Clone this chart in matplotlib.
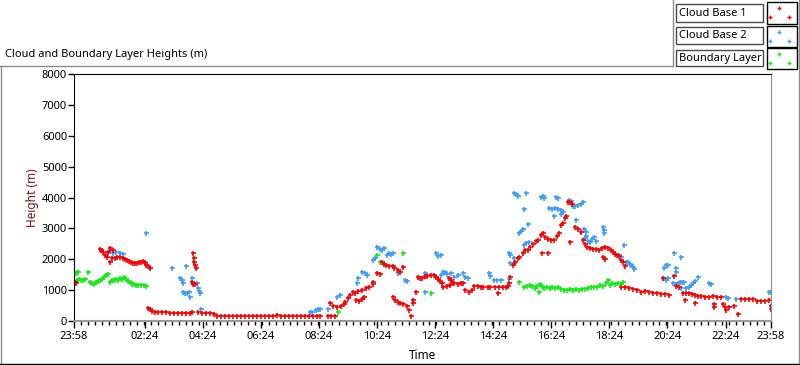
import matplotlib
matplotlib.use('Agg')
import matplotlib.pyplot as plt
from matplotlib.lines import Line2D
from matplotlib.patches import Rectangle
import numpy as np

plt.rcParams['font.family'] = ['Noto Sans', 'DejaVu Sans']

# hours after the 23:58 start, height in m
cloud_base_1 = [
    (0.02, 1270), (0.07, 1240),
    (0.90, 2340), (0.93, 2310), (1.00, 2240), (1.07, 2150), (1.14, 2080), (1.17, 2240), (1.24, 2370),
    (1.24, 1920), (1.31, 2050), (1.34, 2310), (1.41, 2050), (1.48, 2080), (1.59, 2080), (1.69, 2050),
    (1.76, 2020), (1.83, 1980), (1.90, 1950), (1.97, 1920), (2.03, 1890), (2.10, 1890), (2.17, 1890),
    (2.24, 1920), (2.31, 1920), (2.38, 1950), (2.45, 1890), (2.48, 1820), (2.55, 1790), (2.62, 1720),
    (2.55, 420), (2.62, 390), (2.69, 330), (2.79, 290), (2.90, 290), (3.03, 290), (3.17, 290),
    (3.31, 260), (3.45, 260), (3.59, 260), (3.72, 260), (3.86, 260), (4.00, 260), (4.07, 290),
    (4.10, 2210), (4.14, 2050), (4.14, 1920), (4.17, 1820), (4.21, 1720), (4.07, 1270), (4.10, 1200),
    (4.17, 1200),
    (4.28, 290), (4.41, 260), (4.55, 260), (4.69, 260), (4.83, 230), (4.93, 160), (5.07, 160),
    (5.21, 160), (5.34, 160), (5.48, 160), (5.62, 170), (5.76, 160), (5.90, 160), (6.03, 160),
    (6.17, 160), (6.31, 160), (6.45, 160), (6.59, 160), (6.72, 160), (6.86, 170), (7.00, 180),
    (7.14, 160), (7.28, 160), (7.41, 160), (7.55, 160), (7.69, 160), (7.83, 160), (7.97, 160),
    (8.10, 160), (8.24, 160), (8.38, 160), (8.48, 160), (8.76, 160), (8.86, 160), (8.97, 160),
    (8.83, 590), (8.93, 490), (9.07, 460), (9.21, 490), (9.31, 550), (9.34, 620), (9.45, 750),
    (9.52, 850), (9.59, 940), (9.69, 910), (9.79, 980), (9.90, 1010), (9.72, 680), (9.83, 650),
    (9.93, 720), (10.00, 780), (10.07, 1070), (10.17, 1110), (10.28, 1200), (10.31, 1270),
    (10.45, 1560), (10.52, 1530), (10.62, 1920), (10.69, 1850), (10.76, 1820), (10.86, 1790),
    (10.97, 1790), (11.03, 1720), (11.14, 1660), (11.21, 1590), (11.34, 1760),
    (11.00, 780), (11.07, 680), (11.14, 620), (11.24, 590), (11.34, 550), (11.45, 490), (11.52, 360),
    (11.59, 160), (11.66, 680), (11.66, 590), (11.76, 940),
    (11.83, 1430), (11.90, 1400), (11.97, 1400), (12.07, 1460), (12.17, 1460), (12.28, 1500),
    (12.38, 1500), (12.45, 1430), (12.52, 1370), (12.59, 1300), (12.66, 1240), (12.72, 1110),
    (12.83, 1140), (12.93, 1170), (12.90, 1400), (12.97, 1330), (13.03, 1270), (13.10, 1240),
    (13.21, 1200), (13.31, 1240), (13.41, 1240), (13.48, 1010), (13.59, 940), (13.69, 1010),
    (13.79, 1140), (13.90, 1140), (14.00, 1110), (14.10, 1110), (14.24, 1110), (14.34, 1110),
    (14.48, 1110), (14.59, 910), (14.62, 1110), (14.76, 1110), (14.86, 1110), (14.93, 1140),
    (14.97, 1240), (15.03, 1430), (15.10, 1820), (15.17, 1920), (15.28, 2050), (15.34, 2080),
    (15.45, 2210), (15.52, 2310), (15.62, 2310), (15.69, 2400), (15.79, 2500), (15.90, 2600),
    (15.97, 2630), (16.07, 2800), (16.14, 2860), (16.21, 2730), (16.31, 2670), (16.41, 2630),
    (16.52, 2630), (16.31, 2210), (16.10, 2210), (16.62, 2760), (16.69, 2860), (16.76, 3120),
    (16.83, 3190), (16.90, 3350), (16.93, 3410), (17.00, 3840), (17.07, 3870), (17.14, 3800),
    (17.07, 2570), (17.24, 3060), (17.34, 2990), (17.45, 2890), (17.52, 2630), (17.59, 2500),
    (17.66, 2400), (17.76, 2370), (17.86, 2340), (17.97, 2340), (18.07, 2310), (18.17, 2370),
    (18.28, 2400), (18.38, 2370), (18.48, 2310), (18.55, 2240), (18.62, 2180), (18.69, 2150),
    (18.76, 2110), (18.83, 1980), (18.90, 1920), (18.97, 1790), (18.21, 2080), (18.28, 2020),
    (18.83, 1110), (18.97, 1110), (19.10, 1070), (19.24, 1040), (19.38, 1010), (19.52, 940),
    (19.66, 980), (19.79, 940), (19.93, 910), (20.07, 910), (20.21, 880), (20.34, 880), (20.48, 850),
    (20.28, 1400), (20.66, 1460), (20.72, 1140), (20.83, 1110), (20.97, 910), (21.07, 910),
    (21.17, 910), (21.28, 880), (21.38, 850), (21.03, 680), (21.38, 590), (21.48, 810), (21.59, 810),
    (21.72, 780), (21.86, 780), (22.00, 810), (22.14, 780), (22.28, 780), (22.03, 550), (22.03, 460),
    (22.34, 550), (22.41, 460), (22.45, 360), (22.55, 460), (22.72, 490), (22.86, 230), (22.97, 720),
    (23.10, 720), (23.24, 720), (23.38, 720), (23.52, 650), (23.66, 650), (23.79, 650), (23.93, 680),
    (24.00, 390), (24.00, 490),
]

cloud_base_2 = [
    (1.17, 2210), (1.24, 2310), (1.34, 2210), (1.45, 2240), (1.59, 2210), (1.69, 2180),
    (2.45, 1920), (2.48, 2860), (2.62, 1720), (3.38, 1720), (3.86, 1790), (3.66, 1400), (3.72, 1330),
    (3.76, 1240), (3.76, 940), (3.83, 910), (3.90, 910), (3.97, 940), (4.00, 780), (4.07, 1400),
    (4.24, 1240), (4.28, 1070), (4.31, 980), (4.34, 910), (4.38, 390),
    (8.14, 290), (8.21, 290), (8.34, 360), (8.41, 390), (8.48, 390), (8.76, 390), (9.07, 780),
    (9.17, 850), (9.76, 1240), (9.79, 1400), (9.93, 1590), (10.03, 1560), (10.10, 1500),
    (10.31, 1980), (10.38, 2050), (10.45, 2410), (10.52, 2340), (10.59, 2310), (10.69, 2370),
    (10.79, 2150), (10.86, 2210), (10.93, 2180), (11.00, 2210), (11.14, 1590), (11.17, 1560),
    (11.41, 1330), (11.48, 1300), (12.10, 1560), (12.14, 1500), (12.10, 940), (12.45, 2210),
    (12.52, 2110), (12.62, 2150), (12.62, 1500), (12.69, 1590), (12.79, 1590), (12.86, 1530),
    (12.97, 1560), (13.07, 1430), (13.21, 1500), (13.38, 1560), (13.45, 1430), (13.55, 1400),
    (14.28, 1560), (14.34, 1460), (14.45, 1330), (14.55, 1330), (14.69, 1330), (14.97, 1370),
    (14.97, 2210), (15.03, 2150), (15.03, 1890), (15.14, 1890), (15.14, 2050), (15.31, 2860),
    (15.38, 2930), (15.45, 2990), (15.48, 2470), (15.55, 2540), (15.66, 2570),
    (15.14, 4160), (15.21, 4100), (15.28, 4060), (15.55, 4130), (15.48, 3640), (15.62, 3150),
    (16.07, 4030), (16.14, 4060), (16.17, 3970), (16.59, 4030), (16.66, 4000), (17.03, 3930),
    (17.10, 3900), (16.34, 3670), (16.45, 3640), (16.55, 3670), (16.66, 3640), (16.76, 3580),
    (16.83, 3540), (16.52, 3410), (16.76, 3450), (17.17, 3710), (17.24, 3740), (17.34, 3770),
    (17.45, 3800), (17.52, 3840), (17.28, 3280), (17.55, 2990), (17.62, 2890), (17.62, 2760),
    (17.59, 2700), (17.69, 2600), (17.76, 2570), (17.83, 2670), (17.90, 2730), (17.97, 2600),
    (18.21, 3060), (18.24, 2960), (18.24, 2860), (18.76, 2150), (18.83, 2080), (18.93, 2470),
    (19.00, 1920), (19.07, 1920), (19.14, 1850), (19.17, 1820), (19.24, 1760), (19.28, 1690),
    (20.28, 1400), (20.31, 1720), (20.38, 1820), (20.45, 1820), (20.38, 1330), (20.45, 1400),
    (20.66, 2210), (20.90, 2080), (20.72, 1720), (20.72, 1590), (20.62, 1240), (20.72, 1200),
    (20.79, 1240), (20.86, 1270), (20.93, 1270), (21.00, 1270), (20.90, 1070), (21.07, 1070),
    (21.17, 1110), (21.24, 1170), (21.31, 1240), (21.38, 1300), (21.48, 1430), (21.86, 1240),
    (21.93, 1200), (22.45, 780), (22.52, 750), (22.79, 720), (23.93, 940), (24.00, 940),
]

boundary_layer = [
    (0.07, 1560), (0.10, 1590), (0.14, 1590), (0.10, 1330), (0.17, 1370), (0.24, 1330), (0.31, 1330),
    (0.38, 1370), (0.48, 1590), (0.55, 1270), (0.62, 1240), (0.69, 1200), (0.76, 1270), (0.83, 1300),
    (0.90, 1330), (0.97, 1370), (1.03, 1430), (1.10, 1500), (1.17, 1530), (1.24, 1270), (1.31, 1330),
    (1.38, 1330), (1.45, 1370), (1.52, 1330), (1.59, 1400), (1.66, 1370), (1.72, 1430), (1.79, 1370),
    (1.86, 1300), (1.93, 1270), (2.00, 1200), (2.07, 1200), (2.14, 1170), (2.21, 1170), (2.31, 1170),
    (2.41, 1170), (2.48, 1140),
    (9.10, 290), (10.45, 2150), (10.55, 1920), (11.34, 2210), (12.28, 910), (15.31, 1270),
    (15.48, 1110), (15.59, 1140), (15.69, 1170), (15.76, 1140), (15.86, 1070), (15.93, 1140),
    (16.00, 940), (16.03, 1200), (16.10, 1140), (16.17, 1070), (16.28, 1110), (16.38, 1070),
    (16.45, 1110), (16.55, 1070), (16.66, 1110), (16.76, 1040), (16.86, 1010), (16.97, 1010),
    (17.07, 1040), (17.17, 1010), (17.28, 1040), (17.38, 1010), (17.48, 1040), (17.59, 1040),
    (17.69, 1070), (17.79, 1110), (17.90, 1110), (18.00, 1110), (18.10, 1170), (18.21, 1140),
    (18.31, 1240), (18.38, 1330), (18.45, 1170), (18.52, 1240), (18.62, 1200), (18.72, 1240),
    (18.83, 1200), (18.90, 1270),
]

series_names = ['Cloud Base 1', 'Cloud Base 2', 'Boundary Layer']
series_colors = ['#ff0000', '#3c9cff', '#11ee11']

time_labels = ['23:58', '02:24', '04:24', '06:24', '08:24', '10:24', '12:24',
               '14:24', '16:24', '18:24', '20:24', '22:24', '23:58']
height_ticks = [0, 1000, 2000, 3000, 4000, 5000, 6000, 7000, 8000]


def hours_after_start(label):
    hh, mm = label.split(':')
    return ((int(hh) * 60 + int(mm) - (23 * 60 + 58)) % 1440) / 60.0


tick_pos = [hours_after_start(s) for s in time_labels]
tick_pos[-1] = 24.0

W, H = 800, 365
fig = plt.figure(figsize=(W / 100, H / 100), dpi=100)
fig.patch.set_facecolor('white')


def fx(x):
    return x / W


def fy(y):
    return 1 - y / H


ax = fig.add_axes([fx(74), fy(321), fx(771) - fx(74), fy(74) - fy(321)])

for data, color in reversed(list(zip([cloud_base_1, cloud_base_2, boundary_layer], series_colors))):
    t = [p[0] for p in data]
    h = [p[1] for p in data]
    ax.plot(t, h, linestyle='none', marker='+', ms=3.6, mew=1.2, color=color)

ax.set_xlim(0, 24)
ax.set_ylim(0, 8000)
ax.set_yticks(height_ticks)
ax.set_yticklabels([str(v) for v in height_ticks], fontsize=8)
ax.set_xticks(tick_pos)
ax.set_xticklabels(time_labels, fontsize=8)
ax.set_xticks(np.arange(0, 24.01, 0.24), minor=True)
ax.tick_params(axis='y', direction='out', length=4, width=1, pad=1)
ax.tick_params(axis='x', which='major', direction='out', length=5, width=1, pad=2)
ax.tick_params(axis='x', which='minor', direction='out', length=3, width=1)

ax.spines['left'].set_color('black')
ax.spines['top'].set_color('black')
ax.spines['right'].set_color('#8c8c8c')
ax.spines['bottom'].set_color('#9a9a9a')
ax.spines['bottom'].set_linewidth(1.5)
for s in ax.spines.values():
    s.set_zorder(5)

ax.set_xlabel('Time', fontsize=8.5, labelpad=5)
ax.set_ylabel('Height (m)', fontsize=8.5, color='#7a1414', labelpad=2)

fig.text(fx(5), fy(55), 'Cloud and Boundary Layer Heights (m)', fontsize=8, va='center', ha='left')

# outer frame
frame = [((0, 673), (65.5, 65.5), '#8c8c8c'), ((673, 673), (0, 65.5), '#8c8c8c'),
         ((1, 1), (65.5, 363), '#8c8c8c'), ((0, 800), (363.5, 363.5), 'black'),
         ((798.5, 798.5), (0, 363), '#8c8c8c')]
for xs, ys, c in frame:
    fig.add_artist(Line2D([fx(x) for x in xs], [fy(y) for y in ys], color=c, lw=1))

# legend
rows = [(4, 22, 2, 24), (27, 44, 26, 47), (50, 66, 48, 69)]
for (ty0, ty1, my0, my1), name, color in zip(rows, series_names, series_colors):
    fig.add_artist(Rectangle((fx(676), fy(ty1)), fx(763) - fx(676), fy(ty0) - fy(ty1),
                             facecolor='white', edgecolor='#4a4a4a', lw=1))
    fig.text(fx(679), fy((ty0 + ty1) / 2), name, fontsize=8, va='center', ha='left')
    fig.add_artist(Rectangle((fx(767), fy(my1)), fx(797) - fx(767), fy(my0) - fy(my1),
                             facecolor='white', edgecolor='black', lw=1))
    fig.add_artist(Line2D([fx(779), fx(769.5), fx(789)],
                          [fy(my0 + 6), fy(my0 + 15), fy(my0 + 15)],
                          linestyle='none', marker='+', ms=3, mew=1.0, color=color))

fig.savefig('out.png', dpi=100)
